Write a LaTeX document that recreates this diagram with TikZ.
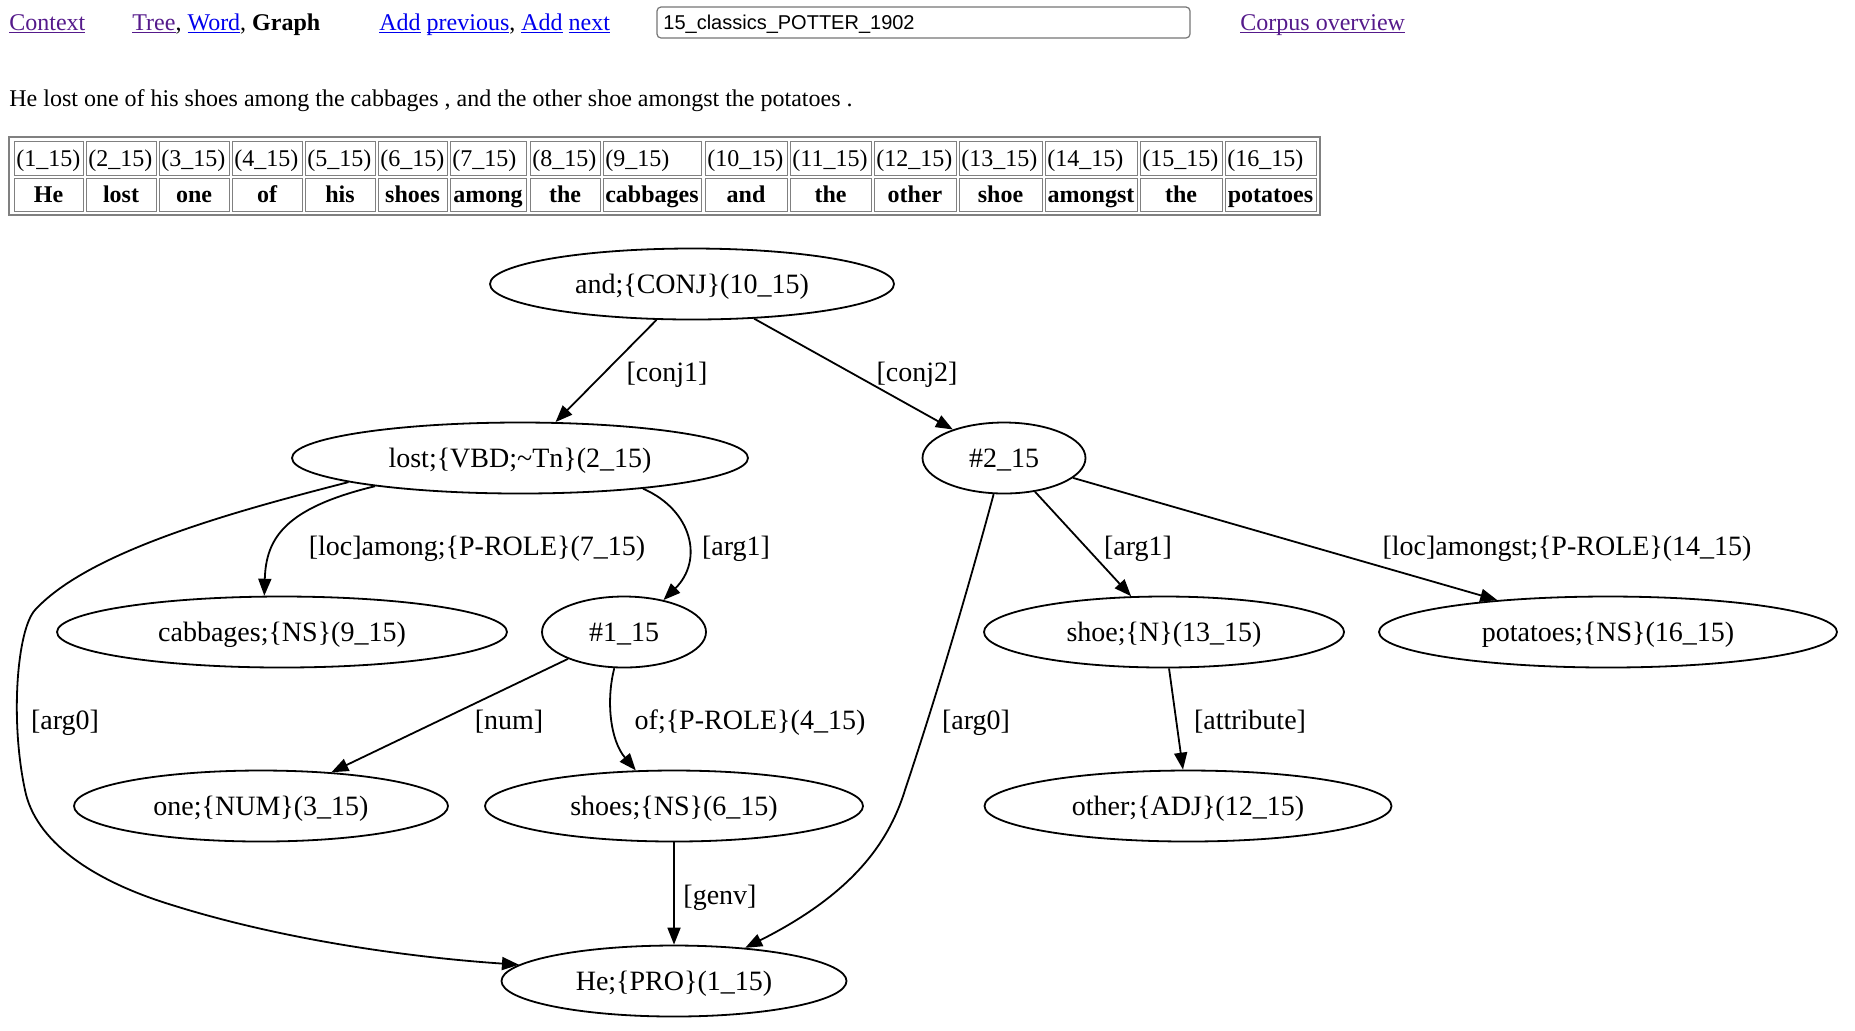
\documentclass[tikz,border=0pt]{standalone}
\usepackage{fontspec}
\setmainfont{Liberation Serif}
\newfontfamily\arialf{Liberation Sans}
\usetikzlibrary{shapes.geometric,arrows.meta}
\definecolor{visited}{HTML}{551A8B}
\definecolor{linkblue}{HTML}{0000EE}
\definecolor{cellgray}{HTML}{808080}
\definecolor{boxgray}{HTML}{767676}
\newcommand\lnkul[1]{\setbox0\hbox{#1}\rlap{\rule[-1.7pt]{\wd0}{0.6pt}}\box0}
\tikzset{
  gnode/.style={ellipse, draw, line width=0.9pt, inner sep=0pt, minimum height=35.5pt, text height=11pt, text depth=2pt, font=\fontsize{14}{16}\selectfont},
  gedge/.style={line width=0.9pt, -{Triangle[length=8.5pt,width=6.5pt]}},
  glabel/.style={font=\fontsize{14}{16}\selectfont, inner sep=0pt, text height=11pt, text depth=2pt},
  toptext/.style={font=\fontsize{12}{14}\selectfont, inner sep=0pt, anchor=base west},
  cellbox/.style={draw=cellgray, line width=0.5pt},
  idtext/.style={font=\fontsize{12}{14}\selectfont, inner sep=0pt, anchor=west, text height=9pt, text depth=2pt},
  wordtext/.style={font=\fontsize{12}{14}\selectfont\bfseries, inner sep=0pt, text height=9pt, text depth=2pt}
}
\begin{document}
\begin{tikzpicture}[x=0.5pt,y=-0.5pt]
\useasboundingbox (0,0) rectangle (1855,1030);
\fill[white] (0,0) rectangle (1855,1030);

% top bar
\node[toptext] (ctx) at (9,30) {{\color{visited}\lnkul{Context}}};
\node[toptext] (views) at (132,30) {{\color{visited}\lnkul{Tree}}, {\color{linkblue}\lnkul{Word}}, \textbf{Graph}};
\node[toptext] (addl) at (379,30) {{\color{linkblue}\lnkul{Add}} {\color{linkblue}\lnkul{previous}}, {\color{linkblue}\lnkul{Add}} {\color{linkblue}\lnkul{next}}};
\draw[draw=boxgray, line width=0.6pt, rounded corners=2pt] (657,7) rectangle (1190,38);
\node[anchor=base west, inner sep=0pt, font=\arialf\fontsize{10}{12}\selectfont] (docid) at (663,29) {15\_classics\_POTTER\_1902};
\node[toptext] (corpus) at (1240,30) {{\color{visited}\lnkul{Corpus overview}}};

% sentence
\node[toptext] (sent) at (9,106) {He lost one of his shoes among the cabbages , and the other shoe amongst the potatoes .};

% table
\draw[cellgray, line width=0.6pt] (9,137) rectangle (1320,215);
\foreach \a/\b/\w/\n in {14/83/He/1, 86/156/lost/2, 159/229/one/3, 232/302/of/4, 305/375/his/5, 378/447/shoes/6, 450/526/among/7, 530/600/the/8, 603/701/cabbages/9, 705/787/and/10, 790/871/the/11, 874/956/other/12, 959/1042/shoe/13, 1045/1137/amongst/14, 1140/1222/the/15, 1225/1316/potatoes/16}{
  \draw[cellbox] (\a,141) rectangle (\b,175);
  \draw[cellbox] (\a,178) rectangle (\b,211);
  \node[idtext] (id\n) at (\a+2,159) {(\n\_15)};
  \node[wordtext] (w\n) at ({(\a+\b)/2},195) {\w};
}

% graph nodes
\node[gnode, minimum width=202pt] (and) at (692,284) {and;\{CONJ\}(10\_15)};
\node[gnode, minimum width=228pt] (lost) at (520,458) {lost;\{VBD;\textasciitilde Tn\}(2\_15)};
\node[gnode, minimum width=81.5pt] (n2) at (1004,458) {\#2\_15};
\node[gnode, minimum width=225pt] (cabb) at (282,632) {cabbages;\{NS\}(9\_15)};
\node[gnode, minimum width=82pt] (n1) at (624,632) {\#1\_15};
\node[gnode, minimum width=180pt] (shoe) at (1164,632) {shoe;\{N\}(13\_15)};
\node[gnode, minimum width=229pt] (pota) at (1608,632) {potatoes;\{NS\}(16\_15)};
\node[gnode, minimum width=187pt] (one) at (261,806) {one;\{NUM\}(3\_15)};
\node[gnode, minimum width=189pt] (shoes) at (674,806) {shoes;\{NS\}(6\_15)};
\node[gnode, minimum width=203.5pt] (other) at (1188,806) {other;\{ADJ\}(12\_15)};
\node[gnode, minimum width=172.5pt] (he) at (674,981) {He;\{PRO\}(1\_15)};

% edges
\draw[gedge] (and) -- (lost);
\draw[gedge] (and) -- (n2);
\draw[gedge] (lost.191) .. controls (285,508) and (266,538) .. (cabb.116);
\draw[gedge] (lost.-14) .. controls (692,510) and (704,560) .. (n1.39);
\draw[gedge] (lost.188) .. controls (240,510) and (90,550) .. (35,610)
   .. controls (17,630) and (10,720) .. (25,790)
   .. controls (35,840) and (90,880) .. (172,905)
   .. controls (290,942) and (420,958) .. (he.174);
\draw[gedge] (n2) -- (shoe);
\draw[gedge] (n2) -- (pota);
\draw[gedge] (n2.254) .. controls (965,600) and (935,700) .. (905,790)
   .. controls (888,845) and (850,895) .. (he.25);
\draw[gedge] (n1) -- (one);
\draw[gedge] (n1.255) .. controls (606,700) and (610,740) .. (shoes.137);
\draw[gedge] (shoe) -- (other);
\draw[gedge] (shoes) -- (he);

% edge labels
\node[glabel] (lconj1) at (667,372) {[conj1]};
\node[glabel] (lconj2) at (917,372) {[conj2]};
\node[glabel] (lamong) at (477,546) {[loc]among;\{P-ROLE\}(7\_15)};
\node[glabel] (larg1a) at (736,546) {[arg1]};
\node[glabel] (larg1b) at (1138,546) {[arg1]};
\node[glabel] (lamongst) at (1567,546) {[loc]amongst;\{P-ROLE\}(14\_15)};
\node[glabel] (larg0a) at (65,720) {[arg0]};
\node[glabel] (lnum) at (509,720) {[num]};
\node[glabel] (lof) at (750,720) {of;\{P-ROLE\}(4\_15)};
\node[glabel] (larg0b) at (976,720) {[arg0]};
\node[glabel] (lattr) at (1250,720) {[attribute]};
\node[glabel] (lgenv) at (720,895) {[genv]};
\end{tikzpicture}
\end{document}
